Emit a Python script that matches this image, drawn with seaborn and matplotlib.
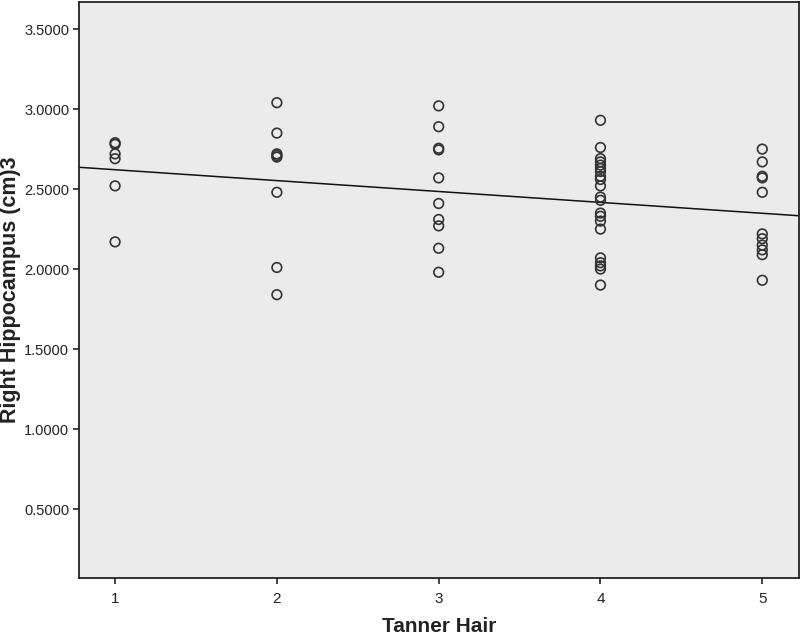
import matplotlib
matplotlib.use("Agg")
import matplotlib.pyplot as plt
import seaborn as sns
import numpy as np
import pandas as pd

# значения
tanner_levels = [1, 2, 3, 4, 5]
hippo_t1 = [2.79, 2.78, 2.72, 2.69, 2.52, 2.17]
hippo_t2 = [3.04, 2.85, 2.72, 2.71, 2.70, 2.48, 2.01, 1.84]
hippo_t3 = [3.02, 2.89, 2.755, 2.745, 2.57, 2.41, 2.31, 2.27, 2.13, 1.98]
hippo_t4 = [2.93, 2.76, 2.69, 2.67, 2.65, 2.63, 2.61, 2.58, 2.56, 2.52, 2.45,
            2.43, 2.35, 2.33, 2.30, 2.25, 2.07, 2.04, 2.02, 2.00, 1.90]
hippo_t5 = [2.75, 2.67, 2.58, 2.57, 2.48, 2.22, 2.19, 2.15, 2.12, 2.09, 1.93]
y_ticks = [0.5, 1.0, 1.5, 2.0, 2.5, 3.0, 3.5]

groups = [hippo_t1, hippo_t2, hippo_t3, hippo_t4, hippo_t5]
df = pd.DataFrame({
    'tanner_hair': np.concatenate([[lvl] * len(g) for lvl, g in zip(tanner_levels, groups)]),
    'right_hippo': np.concatenate(groups),
})

sns.set_style("ticks")
plt.rcParams['font.family'] = ['Liberation Sans', 'DejaVu Sans']

fig = plt.figure(figsize=(8, 6.36), dpi=100)
ax = fig.add_axes([0.09875, 0.0912, 0.9, 0.9058])
ax.set_facecolor('#ebebeb')

xlim = (0.777, 5.227)
ylim = (0.069, 3.67)
ax.set_xlim(*xlim)
ax.set_ylim(*ylim)

# точки + линия регрессии на всю ширину осей
sns.regplot(data=df, x='tanner_hair', y='right_hippo', ax=ax, ci=None, truncate=False,
            marker='o', color='black',
            scatter_kws=dict(s=48, facecolors='none', edgecolors='#333333',
                             linewidths=1.2, alpha=1, zorder=3),
            line_kws=dict(color='#111111', lw=1.1, zorder=2))
ax.set_xlim(*xlim)
ax.set_ylim(*ylim)

ax.set_xticks(tanner_levels)
ax.set_xticklabels([str(v) for v in tanner_levels], fontsize=11)
ax.set_yticks(y_ticks)
ax.set_yticklabels([f'{v:.4f}' for v in y_ticks], fontsize=10.5)
ax.tick_params(axis='both', direction='out', length=4, width=1.2, color='#222222',
               labelcolor='#222222', pad=3)
ax.tick_params(axis='x', pad=6)

for side in ax.spines.values():
    side.set_visible(True)
    side.set_color('#222222')
    side.set_linewidth(1.3)
ax.grid(False)

ax.set_xlabel('Tanner Hair', fontsize=15, fontweight='bold', color='#222222', labelpad=8)
ax.set_ylabel('Right Hippocampus (cm)3', fontsize=15.5, fontweight='bold', color='#222222')
ax.yaxis.label.set_va('center')
ax.yaxis.set_label_coords(-0.095, 0.5)

fig.savefig('out.png', dpi=100)
